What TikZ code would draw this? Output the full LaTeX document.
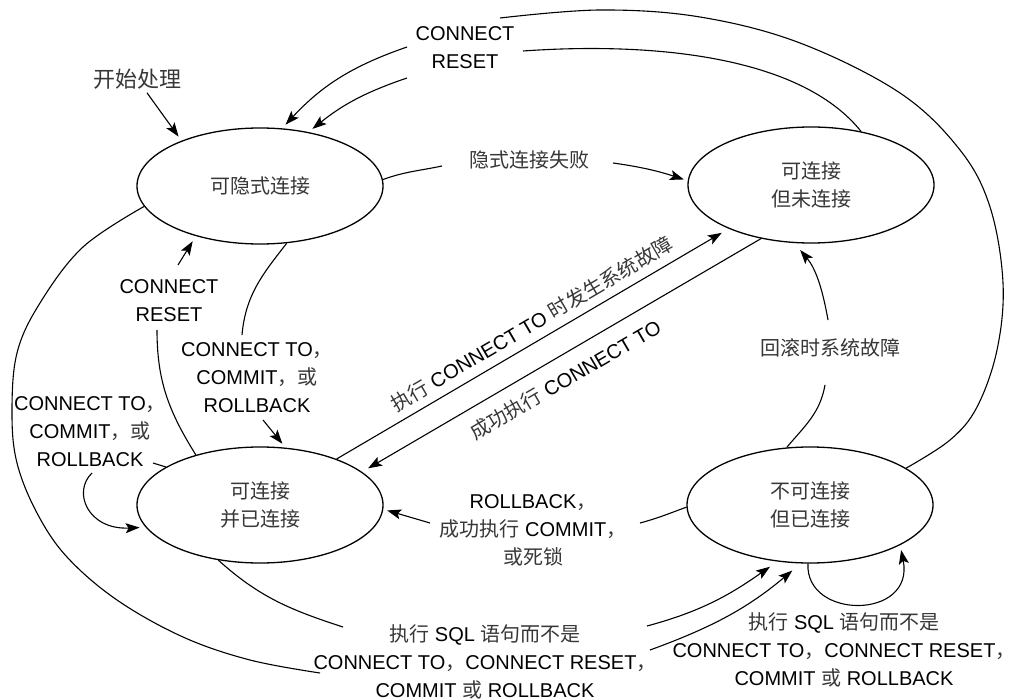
\documentclass[tikz,border=0pt]{standalone}
\usepackage{fontspec}
\setmainfont{Liberation Sans}
\newfontfamily\cjk{Noto Sans CJK SC}
\usetikzlibrary{shapes.geometric,arrows.meta}
\definecolor{cjkc}{RGB}{55,55,55}
\newcommand{\zh}[1]{{\cjk\color{cjkc}#1}}
\begin{document}
\begin{tikzpicture}[x=1pt,y=1pt,
  st/.style={ellipse, draw, line width=1.3pt, minimum width=246pt, minimum height=116pt, inner sep=0pt, align=center, font=\fontsize{20}{28}\selectfont},
  lab/.style={align=center, inner sep=1pt, font=\fontsize{20}{28}\selectfont},
  con/.style={line width=1.1pt},
  arr/.style={con, -{Stealth[length=14pt,width=10pt,inset=3pt]}}]
\path[use as bounding box] (0,0) rectangle (1016,-700);

% states
\node[st] (E1) at (260,-186) {\zh{可隐式连接}};
\node[st] (E2) at (811,-185) {\zh{可连接}\\\zh{但未连接}};
\node[st] (E3) at (260,-505) {\zh{可连接}\\\zh{并已连接}};
\node[st] (E4) at (810,-505) {\zh{不可连接}\\\zh{但已连接}};

% labels
\node[lab, font=\fontsize{22}{28}\selectfont] (Lstart) at (137,-79) {\zh{开始处理}};
\node[lab] (Ltop) at (465,-48) {CONNECT\\RESET};
\node[lab] (Lfail) at (529,-160) {\zh{隐式连接失败}};
\node[lab] (Lrb) at (830,-348) {\zh{回滚时系统故障}};
\node[lab] (Lrc) at (533,-530) {ROLLBACK\zh{，}\\\zh{成功执行} COMMIT\zh{，}\\\zh{或死锁}};
\node[lab] (Lcr) at (169,-301) {CONNECT\\RESET};
\node[lab] (Lct) at (257,-378) {CONNECT TO\zh{，}\\COMMIT\zh{，或}\\ROLLBACK};
\node[lab] (Lloop) at (90,-432) {CONNECT TO\zh{，}\\COMMIT\zh{，或}\\ROLLBACK};
\node[lab] (Lsql1) at (485,-662) {\zh{执行} SQL \zh{语句而不是}\\CONNECT TO\zh{，}CONNECT RESET\zh{，}\\COMMIT \zh{或} ROLLBACK};
\node[lab, inner sep=0pt] (Lsql2) at (844,-650) {\zh{执行} SQL \zh{语句而不是}\\CONNECT TO\zh{，}CONNECT RESET\zh{，}\\COMMIT \zh{或} ROLLBACK};

% free ends of connectors broken by labels
\coordinate (a1) at (500,-18);
\coordinate (a2) at (407,-47);
\coordinate (b1) at (523,-51);
\coordinate (b2) at (407,-78);
\coordinate (f1) at (442,-166);
\coordinate (f2) at (613,-163);
\coordinate (r1) at (825,-385);
\coordinate (r2) at (828,-320);
\coordinate (k1) at (640,-523);
\coordinate (k2) at (430,-523);
\coordinate (c1) at (157,-330);
\coordinate (c2) at (178,-265);
\coordinate (t1) at (242,-335);
\coordinate (t2) at (263,-420);
\coordinate (p1) at (153,-463);
\coordinate (p2) at (92,-473);
\coordinate (o1) at (320,-673);
\coordinate (o2) at (650,-650);
\coordinate (i1) at (343,-627);
\coordinate (i2) at (647,-626);

% start
\draw[arr, shorten <=3pt, shorten >=5pt] (Lstart) -- (E1.150);

% E4 -> E1 (CONNECT RESET, outer)
\draw[con] plot[smooth, tension=0.6] coordinates {(E4.21) (950,-440) (977,-407) (997,-350) (1003,-283) (990,-207) (960,-150) (900,-93) (800,-43) (700,-17) (600,-10) (a1)};
\draw[arr, shorten >=5pt] (a2) to[bend right=14] (E1.69);

% E2 -> E1 (CONNECT RESET, inner)
\draw[con] (E2.47) .. controls (800,-55) and (650,-42) .. (b1);
\draw[arr, shorten >=5pt] (b2) to[bend right=10] (E1.48);

% E1 -> E2
\draw[con] (E1.3) to[out=20,in=192] (f1);
\draw[arr, shorten >=4pt] (f2) to[out=-8,in=162] (E2.178);

% diagonals
\draw[arr, shorten >=8pt] (E3.31) -- node[lab, sloped, above=7pt, pos=0.52] {\zh{执行} CONNECT TO \zh{时发生系统故障}} (E2.208);
\draw[arr, shorten >=7pt] (E2.227) -- node[lab, sloped, below=12pt, pos=0.52] {\zh{成功执行} CONNECT TO} (E3.18);

% E4 -> E2
\draw[con] (E4.112) to[out=50,in=-100] (r1);
\draw[arr, shorten >=9pt] (r2) to[out=100,in=-50] (E2.254);

% E4 -> E3
\draw[con] (E4.181) to[out=200,in=15] (k1);
\draw[arr, shorten >=4pt] (k2) -- (E3.358);

% E3 -> E1
\draw[con] (E3.142) to[out=122,in=-90] (c1);
\draw[arr, shorten >=6pt] (c2) -- (E1.218);

% E1 -> E3
\draw[con] (E1.295) to[out=232,in=85] (t1);
\draw[arr, shorten >=5pt] (t2) -- (E3.66);

% E3 self loop
\draw[con] (E3.158) -- (p1);
\draw[arr, shorten >=6pt] (p2) .. controls (72,-492) and (88,-530) .. (E3.191);

% E1 -> E4 (outer bottom)
\draw[con] plot[smooth, tension=0.6] coordinates {(E1.190) (83,-247) (40,-303) (17,-353) (12,-413) (17,-463) (37,-513) (67,-557) (117,-600) (183,-637) (250,-660) (o1)};
\draw[arr, shorten >=11pt] (o2) to[out=20,in=-140] (E4.261);

% E3 -> E4 (inner bottom)
\draw[con] (E3.233) to[out=-42,in=162] (i1);
\draw[arr, shorten >=9pt] (i2) to[out=15,in=-145] (E4.240);

% E4 self loop
\draw[arr, shorten >=5pt] (E4.268) .. controls (805,-620) and (915,-620) .. (E4.336);
\end{tikzpicture}
\end{document}
